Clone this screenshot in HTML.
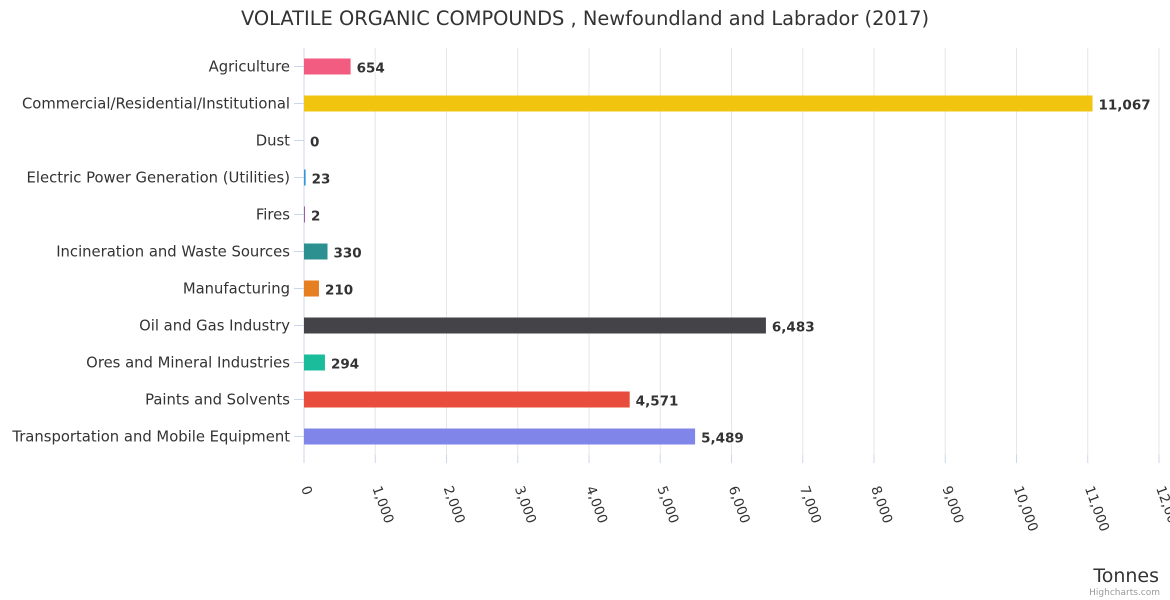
<!DOCTYPE html>
<html><head><meta charset="utf-8"><style>
body{margin:0;background:#fff;}
svg{display:block;font-family:"DejaVu Sans","Liberation Sans",sans-serif;}
</style></head><body>
<svg id="chart" width="1170" height="600">
<rect width="1170" height="600" fill="#fff"/>
<text x="585" y="25" text-anchor="middle" font-size="19.4" fill="#333">VOLATILE ORGANIC COMPOUNDS , Newfoundland and Labrador (2017)</text>
<g id="grid"></g><g id="bars"></g><g id="ylabels"></g><g id="xlabels"></g>
<text x="1159" y="582" text-anchor="end" font-size="19" fill="#333">Tonnes</text>
<text x="1160" y="595" text-anchor="end" font-size="9" fill="#999">Highcharts.com</text>
</svg>
<script>
const categories=["Agriculture","Commercial/Residential/Institutional","Dust","Electric Power Generation (Utilities)","Fires","Incineration and Waste Sources","Manufacturing","Oil and Gas Industry","Ores and Mineral Industries","Paints and Solvents","Transportation and Mobile Equipment"];
const values=[654,11067,0,23,2,330,210,6483,294,4571,5489];
const colors=["#f15c80","#f1c40f","#2ecc71","#3498db","#9b59b6","#2b908f","#e67e22","#434348","#1abc9c","#e74c3c","#8085e9"];
const ticks=[0,1000,2000,3000,4000,5000,6000,7000,8000,9000,10000,11000,12000];
const NS="http://www.w3.org/2000/svg";
const L=304,R=1159,T=48,B=455,max=12000;
const xs=v=>L+(R-L)*v/max;
const rowH=(B-T)/categories.length;
const ys=i=>T+rowH*(i+0.5);
function mk(tag,attrs,parent,txt){const e=document.createElementNS(NS,tag);for(const k in attrs)e.setAttribute(k,attrs[k]);if(txt!==undefined)e.textContent=txt;document.getElementById(parent).appendChild(e);return e;}
const fmt=v=>v.toLocaleString("en-US");
ticks.forEach(t=>{
  const x=xs(t);
  if(t>0){const g=mk("line",{x1:x,x2:x,y1:T,y2:B,stroke:"#e6e6e6"},"grid");
  
  }
  const tk=mk("line",{x1:x,x2:x,y1:B,y2:B+8,stroke:"#ccd6eb"},"grid");
  
  
  const lb=mk("text",{x:x-3,y:B+33,"font-size":13.5,fill:"#333",transform:`rotate(70 ${x-3} ${B+33})`},"xlabels",fmt(t));
  
  
});
const ax=mk("line",{x1:L,x2:L,y1:T,y2:B,stroke:"#ccd6eb"},"grid");


categories.forEach((c,i)=>{
  const y=ys(i);
  const tk=mk("line",{x1:L-10,x2:L,y1:y,y2:y,stroke:"#ccd6eb"},"grid");
  
  
  const lb=mk("text",{x:L-14,y:y+5,"text-anchor":"end","font-size":14.8,fill:"#333"},"ylabels",c);
  
  
  const w=Math.max(xs(values[i])-L,values[i]>0?1:0);
  const b=mk("rect",{x:L,y:y-8,width:w,height:16,fill:colors[i]},"bars");
  
  
  const v=mk("text",{x:L+w+6,y:y+6,"font-size":13.5,"font-weight":"bold",fill:"#333",stroke:"#fff","stroke-width":2,"paint-order":"stroke"},"bars",fmt(values[i]));
  
  
});
</script>
</body></html>
